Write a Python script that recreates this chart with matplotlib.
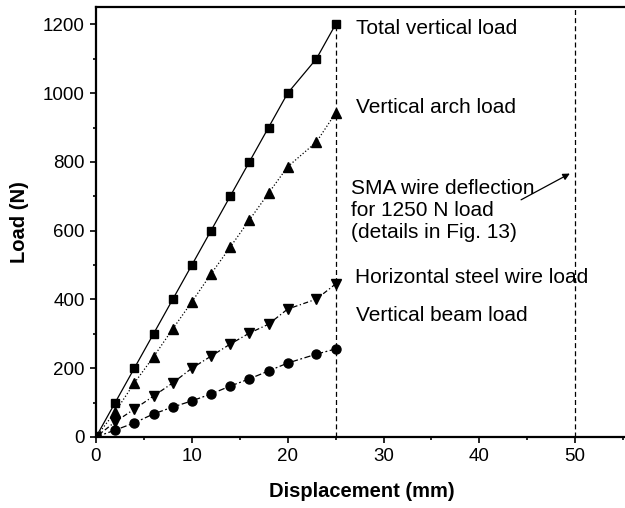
import numpy as np
import matplotlib
matplotlib.use("Agg")
import matplotlib.pyplot as plt
from matplotlib.ticker import MultipleLocator

plt.rcParams['font.family'] = ['Liberation Sans', 'DejaVu Sans']

# displacement (mm) and loads (N)
disp = [0, 2, 4, 6, 8, 10, 12, 14, 16, 18, 20, 23, 25]
total_load = [0, 100, 200, 300, 400, 500, 600, 700, 800, 900, 1000, 1100, 1200]
arch_load = [0, 73, 157, 233, 314, 393, 474, 552, 631, 709, 786, 858, 942]
steel_load = [0, 44, 81, 119, 157, 200, 235, 270, 302, 328, 372, 401, 445]
beam_load = [0, 20, 41, 67, 87, 105, 125, 148, 169, 192, 215, 241, 256]

sma_disp = 50
max_disp = 25

fig = plt.figure(figsize=(6.25, 5.08), dpi=100)
ax = fig.add_axes([0.1536, 0.1398, 0.851, 0.846])

ax.plot(disp, total_load, color='black', lw=0.9, ls='-', marker='s', ms=6)
ax.plot(disp, arch_load, color='black', lw=0.9, ls=':', marker='^', ms=7.5)
ax.plot(disp, steel_load, color='black', lw=0.9, ls=(0, (4, 2, 1, 2)), marker='v', ms=7.5)
ax.plot(disp, beam_load, color='black', lw=0.9, ls=(0, (5, 2, 1.5, 2)), marker='o', ms=6.5)

ax.plot([max_disp, max_disp], [0, max(total_load)], color='black', lw=0.9, ls=(0, (4, 2.5)))
ax.axvline(sma_disp, color='black', lw=0.9, ls=(0, (4, 2.5)))

ax.set_xlim(0, 55.5)
ax.set_ylim(0, 1250)
ax.xaxis.set_major_locator(MultipleLocator(10))
ax.xaxis.set_minor_locator(MultipleLocator(5))
ax.yaxis.set_major_locator(MultipleLocator(200))
ax.yaxis.set_minor_locator(MultipleLocator(100))
ax.tick_params(which='major', direction='out', length=4.5, width=1.2, labelsize=13.5)
ax.tick_params(which='minor', direction='out', length=2.5, width=1.2)
ax.spines['right'].set_visible(False)
for s in ['left', 'bottom', 'top']:
    ax.spines[s].set_linewidth(1.6)

lab_font = dict(fontweight='bold', fontsize=14.5)
ax.set_xlabel('Displacement (mm)', labelpad=12, **lab_font)
ax.set_ylabel('Load (N)', labelpad=10, **lab_font)

ax.text(27.1, 1189, 'Total vertical load', fontsize=15, va='center')
ax.text(27.1, 959, 'Vertical arch load', fontsize=15, va='center')
ax.text(26.6, 660, 'SMA wire deflection\nfor 1250 N load\n(details in Fig. 13)',
        fontsize=15, va='center', linespacing=1.2)
ax.text(27.0, 465, 'Horizontal steel wire load', fontsize=15, va='center')
ax.text(27.1, 352, 'Vertical beam load', fontsize=15, va='center')
ax.annotate('', xy=(49.7, 770), xytext=(44.1, 686),
            arrowprops=dict(arrowstyle='-|>', color='black', lw=0.9, mutation_scale=10))

fig.savefig('out.png', dpi=100)
